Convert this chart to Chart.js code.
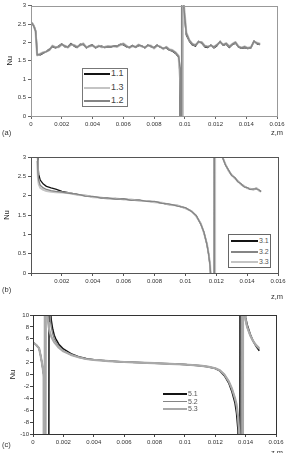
<!DOCTYPE html>
<html><head><meta charset="utf-8">
<script src="https://cdn.jsdelivr.net/npm/chart.js@4"></script>
<style>
html,body{margin:0;padding:0;background:#fff;width:290px;height:453px;overflow:hidden;}
body{position:relative;font-family:"Liberation Sans",Arial,sans-serif;}
canvas{position:absolute;left:0;}
.lbl{position:absolute;color:#333;line-height:1;white-space:nowrap;font-size:7.5px;}
.lg{position:absolute;}
</style></head><body>
<canvas id="cA" width="290" height="140" style="top:0px"></canvas>
<canvas id="cB" width="290" height="150" style="top:145px"></canvas>
<canvas id="cC" width="290" height="153" style="top:300px"></canvas>
<script>
// ---------- DATA ----------
const xTickVals = [0,0.002,0.004,0.006,0.008,0.010,0.012,0.014,0.016];
const xLabels   = ['0','0.002','0.004','0.006','0.008','0.01','0.012','0.014','0.016'];
const xLabelsB  = ['','0.002','0.004','0.006','0.008','0.01','0.012','0.014','0.016'];
const yTickValsAB = [0,0.5,1,1.5,2,2.5,3];
const yLabelsAB   = ['0','0.5','1','1.5','2','2.5','3'];
const yTickValsC  = [-10,-8,-6,-4,-2,0,2,4,6,8,10];
const yLabelsC    = ['-10','-8','-6','-4','-2','0','2','4','6','8','10'];

// panel (a)
const zA = [0,0.0001,0.0002,0.0003,0.00035,
 0.0004,0.0006,0.0008,0.001,
 0.0012,0.0014,0.0016,0.0018,0.002,0.0022,0.0024,0.0026,0.0028,0.003,
 0.0032,0.0034,0.0036,0.0038,0.004,0.0042,0.0044,0.0046,0.0048,0.005,
 0.0052,0.0054,0.0056,0.0058,0.006,0.0062,0.0064,0.0066,0.0068,0.007,
 0.0072,0.0074,0.0076,0.0078,0.008,0.0082,0.0084,0.0086,0.0088,0.009,
 0.0092,0.0094,
 0.0096,0.0097,0.00976,0.0098,0.00985,0.0099,0.00995,
 0.0101,0.0103,0.0105,0.0107,0.0109,0.0111,0.0113,0.0115,0.0117,0.0119,
 0.0121,0.0123,0.0125,0.0127,0.0129,0.0131,0.0133,0.0135,0.0137,0.0139,
 0.0141,0.0143,0.0145,0.0147,0.0149];
const nu11 = [2.56,2.5,2.44,2.32,2.1,
 1.67,1.66,1.71,1.76,
 1.82,1.88,1.85,1.9,1.96,1.88,1.88,1.97,1.9,1.86,
 1.95,1.94,1.85,1.91,1.93,1.85,1.89,1.9,1.86,1.88,
 1.87,1.91,1.9,1.95,1.94,1.88,1.87,1.92,1.86,1.91,
 1.91,1.85,1.93,1.88,1.86,1.93,1.87,1.84,1.85,1.79,
 1.76,1.7,
 1.6,1.1,-100,100,8,3.2,2.85,
 2.2,2.03,1.93,1.9,2.03,1.98,1.88,1.86,1.93,1.85,
 1.91,2.03,1.92,1.95,1.86,1.94,1.98,1.87,1.84,1.86,
 1.83,1.85,2.04,1.96,1.94];
const nu12 = [2.55,2.5,2.42,2.3,2.0,
 1.66,1.68,1.72,1.75,
 1.80,1.90,1.86,1.88,1.95,1.90,1.87,1.95,1.92,1.87,
 1.93,1.96,1.86,1.90,1.92,1.86,1.90,1.88,1.87,1.89,
 1.88,1.90,1.89,1.94,1.96,1.90,1.86,1.91,1.87,1.93,
 1.90,1.86,1.92,1.90,1.85,1.92,1.88,1.83,1.87,1.80,
 1.78,1.72,
 1.62,1.3,-100,100,100,3.3,2.9,
 2.25,2.05,1.95,1.92,2.02,2.0,1.9,1.88,1.92,1.87,
 1.93,2.02,1.93,1.97,1.88,1.95,2.0,1.88,1.85,1.88,
 1.84,1.86,2.03,1.98,1.95];
const nu13 = [2.54,2.51,2.43,2.3,1.95,
 1.65,1.69,1.73,1.75,
 1.79,1.91,1.87,1.87,1.94,1.91,1.86,1.94,1.93,1.88,
 1.92,1.97,1.87,1.89,1.91,1.87,1.91,1.87,1.88,1.9,
 1.89,1.89,1.88,1.93,1.97,1.91,1.85,1.9,1.88,1.94,
 1.89,1.87,1.91,1.91,1.84,1.91,1.89,1.82,1.88,1.81,
 1.79,1.73,
 1.64,1.0,0.5,-100,-100,100,3.0,
 2.27,2.06,1.96,1.93,2.01,2.01,1.91,1.89,1.91,1.88,
 1.94,2.01,1.94,1.98,1.89,1.96,2.01,1.89,1.86,1.89,
 1.85,1.87,2.02,1.99,1.96];

// panel (b)
const zB = [0.0004,0.00045,0.0005,0.0006,0.0008,0.001,0.0013,0.0016,0.002,0.0025,
 0.003,0.0035,0.004,0.0045,0.005,0.0055,0.006,0.0065,0.007,0.0075,
 0.008,0.0085,0.009,0.0095,0.01,0.0104,0.0107,0.011,0.0112,0.0114,
 0.0115,0.0116,0.0117,0.0118,0.01185,0.0119,0.01195,0.012,0.0124,0.0126,
 0.0128,0.013,0.0132,0.0134,0.0136,0.0138,0.014,0.0142,0.0144,0.0146,
 0.0148,0.0149];
const nu31 = [3.5,2.8,2.55,2.4,2.3,2.24,2.2,2.17,2.11,2.07,
 2.03,2.0,1.97,1.95,1.93,1.92,1.91,1.89,1.88,1.86,
 1.84,1.81,1.77,1.74,1.68,1.6,1.48,1.27,1.05,0.74,
 0.5,0.2,-0.5,-3,-100,100,100,100,3.0,2.8,
 2.65,2.53,2.46,2.37,2.3,2.24,2.2,2.17,2.16,2.19,
 2.13,2.11];
const nu32 = [3.2,2.6,2.4,2.27,2.2,2.16,2.13,2.11,2.09,2.06,
 2.04,1.99,1.98,1.94,1.94,1.91,1.92,1.88,1.89,1.85,
 1.85,1.8,1.78,1.73,1.69,1.59,1.49,1.26,1.06,0.73,
 0.5,0.18,-0.5,-3,-100,100,100,100,3.0,2.79,
 2.66,2.52,2.47,2.36,2.31,2.23,2.21,2.16,2.17,2.18,
 2.14,2.1];
const nu33 = [2.9,2.45,2.3,2.2,2.15,2.12,2.1,2.09,2.08,2.06,
 2.02,2.01,1.96,1.95,1.92,1.93,1.9,1.9,1.87,1.86,
 1.83,1.82,1.76,1.75,1.67,1.6,1.47,1.28,1.04,0.75,
 0.52,0.22,-0.4,-2.5,-20,-100,100,100,3.0,2.81,
 2.64,2.54,2.45,2.38,2.29,2.25,2.19,2.18,2.15,2.2,
 2.12,2.11];

// panel (c)
const zC = [0,0.0002,0.0004,0.0005,0.0006,0.0007,0.00075,0.0008,0.00085,0.0009,
 0.00095,0.001,0.00105,0.0011,0.00115,0.0012,0.0013,0.0014,0.0015,0.0017,
 0.002,0.0025,0.003,0.0035,0.004,0.005,0.006,0.007,0.008,0.009,
 0.01,0.011,0.0115,0.012,0.0123,0.0126,0.0129,0.0131,0.0133,0.0134,
 0.0135,0.0136,0.01365,0.0137,0.01375,0.0138,0.01385,0.0139,0.01395,0.014,
 0.0141,0.0143,0.0145,0.0147,0.0149];
const nu51 = [5.4,5.0,4.4,3.2,1.8,0.0,-3,-100,-100,-100,
 -100,-100,-100,100,11,9.2,7.6,6.6,6.0,5.1,
 4.3,3.5,3.0,2.7,2.5,2.27,2.1,2.0,1.9,1.8,
 1.68,1.48,1.3,1.0,0.6,-0.2,-1.5,-2.9,-4.8,-6.5,
 -9.5,-100,100,100,100,100,100,100,11,9.6,
 8.4,6.8,5.6,4.7,4.0];
const nu52 = [5.4,5.0,4.4,3.2,1.8,0.0,-3,-100,-100,100,
 100,100,100,12,9,8,6.8,6.0,5.5,4.7,
 4.0,3.3,2.9,2.6,2.45,2.25,2.1,2.0,1.9,1.8,
 1.68,1.5,1.33,1.05,0.7,0.0,-1.2,-2.4,-4.0,-5.3,
 -7.5,-11,-100,-100,-100,100,100,11,9.7,8.9,
 7.9,6.5,5.5,4.8,4.3];
const nu53 = [5.4,5.0,4.4,3.2,1.8,0.0,-100,100,100,11.5,
 10,8.7,7.8,7.2,6.8,6.4,5.9,5.4,5.1,4.5,
 3.9,3.3,2.9,2.6,2.45,2.24,2.1,1.99,1.9,1.79,
 1.68,1.5,1.33,1.05,0.7,0.0,-1.2,-2.4,-4.0,-5.0,
 -7.0,-10.5,-14,-100,-100,-100,100,100,10.5,9.2,
 8.0,6.6,5.6,4.9,4.4];

const namesA = ['1.1','1.3','1.2'];
const namesB = ['3.1','3.2','3.3'];
const namesC = ['5.1','5.2','5.3'];
const yTitle = 'Nu';
const xTitle = 'z,m';
const panelTags = ['(a)','(b)','(c)'];

// ---------- STYLES ----------
const FONT = '"Liberation Sans", Arial, sans-serif';
const BLACK = '#141414', GRAY = '#858585', LIGHT = '#c4c4c4', LIGHT2 = '#a9a9a9';

const framePlugin = {
  id: 'frame',
  afterDatasetsDraw(chart, args, opts) {
    const {ctx, chartArea: a} = chart;
    ctx.save();
    ctx.strokeStyle = opts.color || '#555';
    ctx.lineWidth = 1;
    ctx.strokeRect(Math.round(a.left) + 0.5, Math.round(a.top) + 0.5,
                   Math.round(a.right - a.left), Math.round(a.bottom - a.top));
    ctx.restore();
  }
};
Chart.register(framePlugin);

function makeChart(id, z, series, o) {
  const datasets = series.map(s => ({
    label: s.name,
    data: z.map((x, i) => ({x: x, y: s.values[i]})),
    borderColor: s.color, borderWidth: s.width,
    pointRadius: 0, tension: 0, fill: false, order: s.order,
    borderJoinStyle: 'round'
  }));
  const axisCol = o.axisColor;
  return new Chart(document.getElementById(id), {
    type: 'line',
    data: {datasets},
    options: {
      responsive: false, animation: false, events: [],
      layout: {padding: o.padding},
      plugins: {legend: {display: false}, tooltip: {enabled: false}, frame: {color: o.frameColor}},
      scales: {
        x: {
          type: 'linear', min: 0, max: 0.016,
          afterBuildTicks: s => { s.ticks = xTickVals.map(v => ({value: v})); },
          afterFit: s => { s.height = o.xh; },
          ticks: {callback: (v, i) => o.xLabels[i], font: {size: 6, family: FONT}, color: '#333',
                  padding: 2, autoSkip: false, maxRotation: 0, minRotation: 0},
          grid: {drawOnChartArea: false, drawTicks: true, tickLength: 3, color: axisCol},
          border: {display: true, color: axisCol}
        },
        y: {
          type: 'linear', min: o.yMin, max: o.yMax,
          afterBuildTicks: s => { s.ticks = o.yVals.map(v => ({value: v})); },
          afterFit: s => { s.width = o.yw; },
          ticks: {callback: (v, i) => o.yLabels[i], font: {size: 6, family: FONT}, color: '#333',
                  padding: o.yPad, autoSkip: false},
          grid: {drawOnChartArea: false, drawTicks: true, tickLength: 3, color: axisCol},
          border: {display: true, color: axisCol},
          title: {display: true, text: yTitle, font: {size: 7.5, family: FONT}, color: '#222',
                  padding: {top: o.titlePad, bottom: 0}}
        }
      }
    }
  });
}

makeChart('cA', zA, [
  {name: namesA[0], values: nu11, color: BLACK, width: 1.3, order: 3},
  {name: namesA[1], values: nu13, color: LIGHT, width: 2.2, order: 2},
  {name: namesA[2], values: nu12, color: GRAY, width: 1.5, order: 1}
], {padding: {top: 5, right: 13, left: 0, bottom: 0}, xh: 24, yw: 31, yMin: 0, yMax: 3,
    yVals: yTickValsAB, yLabels: yLabelsAB, xLabels: xLabels, axisColor: '#666', frameColor: '#999',
    titlePad: 5.5, yPad: 2});

makeChart('cB', zB, [
  {name: namesB[0], values: nu31, color: BLACK, width: 1.3, order: 3},
  {name: namesB[2], values: nu33, color: LIGHT, width: 2.0, order: 2},
  {name: namesB[1], values: nu32, color: GRAY, width: 1.3, order: 1}
], {padding: {top: 12, right: 12, left: 0, bottom: 0}, xh: 22, yw: 31, yMin: 0, yMax: 3,
    yVals: yTickValsAB, yLabels: yLabelsAB, xLabels: xLabelsB, axisColor: '#555', frameColor: '#555',
    titlePad: 2, yPad: 2});

makeChart('cC', zC, [
  {name: namesC[0], values: nu51, color: BLACK, width: 1.5, order: 3},
  {name: namesC[1], values: nu52, color: GRAY, width: 1.3, order: 2},
  {name: namesC[2], values: nu53, color: LIGHT2, width: 2.2, order: 1}
], {padding: {top: 15, right: 14, left: 0, bottom: 0}, xh: 19, yw: 33, yMin: -10, yMax: 10,
    yVals: yTickValsC, yLabels: yLabelsC, xLabels: xLabels, axisColor: '#444', frameColor: '#333',
    titlePad: 8, yPad: 1});

// ---------- LEGENDS & LABELS (HTML text) ----------
function addLegend(items, box, rowsY, x0, x1, tx, fs, tcol) {
  if (box) {
    const b = document.createElement('div');
    b.className = 'lg';
    Object.assign(b.style, {left: box[0] + 'px', top: box[1] + 'px', width: box[2] + 'px',
      height: box[3] + 'px', border: '1px solid ' + box[4], background: '#fff'});
    document.body.appendChild(b);
  }
  items.forEach((it, k) => {
    const l = document.createElement('div');
    l.className = 'lg';
    Object.assign(l.style, {left: x0 + 'px', top: (rowsY[k] - it.w / 2) + 'px',
      width: (x1 - x0) + 'px', height: it.w + 'px', background: it.c});
    document.body.appendChild(l);
    const t = document.createElement('div');
    t.className = 'lbl';
    t.textContent = it.n;
    Object.assign(t.style, {left: tx + 'px', top: (rowsY[k] - fs * 0.55) + 'px',
      fontSize: fs + 'px', color: tcol});
    document.body.appendChild(t);
  });
}
addLegend([{n: namesA[0], c: BLACK, w: 2}, {n: namesA[1], c: LIGHT, w: 2}, {n: namesA[2], c: GRAY, w: 2}],
  [82, 68, 44, 37, '#777'], [74, 88, 101], 84, 110, 111, 9, '#444');
addLegend([{n: namesB[0], c: BLACK, w: 1.6}, {n: namesB[1], c: GRAY, w: 2}, {n: namesB[2], c: LIGHT, w: 2}],
  [228, 234, 41, 32, '#666'], [241, 251.5, 262], 231, 258, 259, 7, '#555');
addLegend([{n: namesC[0], c: BLACK, w: 2}, {n: namesC[1], c: GRAY, w: 1.2}, {n: namesC[2], c: LIGHT2, w: 2.5}],
  null, [394, 401.5, 409], 163, 187, 188, 7, '#555');

function addText(txt, x, y) {
  const t = document.createElement('div');
  t.className = 'lbl';
  t.textContent = txt;
  Object.assign(t.style, {left: x + 'px', top: y + 'px'});
  document.body.appendChild(t);
}
addText(panelTags[0], 2, 129); addText(xTitle, 271, 129);
addText(panelTags[1], 2, 286); addText(xTitle, 271, 293);
addText(panelTags[2], 2, 441); addText(xTitle, 271, 449);
</script>
</body></html>
